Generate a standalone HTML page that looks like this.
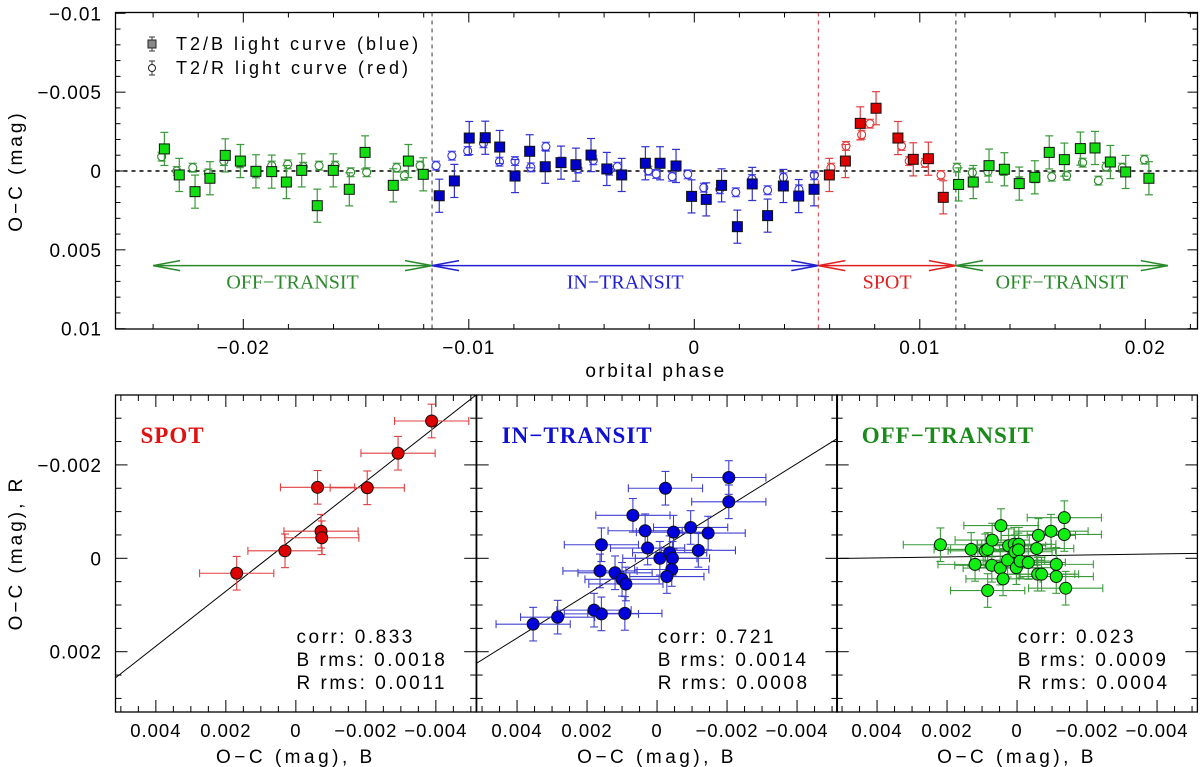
<!DOCTYPE html>
<html><head><meta charset="utf-8"><style>
html,body{margin:0;padding:0;background:#fff;}
svg{display:block;font-family:"Liberation Sans",sans-serif;}
</style></head><body>
<svg id="chart" width="1200" height="767" viewBox="0 0 1200 767" xmlns="http://www.w3.org/2000/svg"></svg>
<script>
// ---------- TOP PANEL DATA ----------
const offLeftSqPhase=[-0.02350,-0.02284,-0.02214,-0.02148,-0.02080,-0.02013,-0.01944,-0.01874,-0.01809,-0.01741,-0.01672,-0.01601,-0.01530,-0.01460,-0.01335,-0.01268,-0.01202];
const offLeftSqMag=[-0.00140,0.00025,0.00131,0.00046,-0.00099,-0.00063,0.00002,0.00004,0.00070,-0.00004,0.00220,-0.00004,0.00116,-0.00118,0.00091,-0.00063,0.00021];
const offLeftCiPhase=[-0.02362,-0.02295,-0.02224,-0.02155,-0.02086,-0.02015,-0.01944,-0.01874,-0.01803,-0.01734,-0.01664,-0.01593,-0.01524,-0.01453,-0.01320,-0.01286,-0.01216];
const offLeftCiMag=[-0.00091,0,-0.00021,0.00015,-0.00063,-0.00049,0.00015,-0.00034,-0.00042,-0.00027,-0.00034,-0.00034,0.00008,0.00008,-0.00021,0.00030,-0.00034];
const inSqPhase=[-0.01131,-0.01064,-0.00998,-0.00927,-0.00863,-0.00795,-0.00730,-0.00661,-0.00591,-0.00525,-0.00458,-0.00388,-0.00322,-0.00217,-0.00152,-0.00081,-0.00012,0.00053,0.00121,0.00191,0.00257,0.00325,0.00395,0.00463,0.00531];
const inSqMag=[0.00157,0.00063,-0.00209,-0.00211,-0.00152,0.00032,-0.00125,-0.00027,-0.00053,-0.00040,-0.00101,-0.00013,0.00025,-0.00049,-0.00049,-0.00032,0.00161,0.00180,0.00091,0.00353,0.00082,0.00283,0.00095,0.00159,0.00116];
const inCiPhase=[-0.01145,-0.01075,-0.01005,-0.00935,-0.00864,-0.00795,-0.00725,-0.00658,-0.00588,-0.00516,-0.00448,-0.00378,-0.00341,-0.00204,-0.00169,-0.00098,-0.00029,0.00042,0.00113,0.00184,0.00256,0.00325,0.00395,0.00464,0.00532];
const inCiMag=[-0.00034,-0.00097,-0.00127,-0.00176,-0.00059,-0.00063,-0.00023,-0.00154,-0.00059,-0.00015,-0.00068,-0.00002,-0.00027,-0.00002,0.00019,0.00036,0.00021,0.00106,0.00116,0.00135,0.00051,0.00122,0.00040,0.00116,0.00027];
const spotSqPhase=[0.00599,0.00670,0.00736,0.00806,0.00903,0.00971,0.01038,0.01104];
const spotSqMag=[0.00025,-0.00063,-0.00302,-0.00398,-0.00209,-0.00074,-0.00078,0.00167];
const spotCiPhase=[0.00606,0.00673,0.00742,0.00779,0.00919,0.00953,0.01023,0.01094];
const spotCiMag=[-0.00021,-0.00159,-0.00230,-0.00300,-0.00159,-0.00063,-0.00051,0.00025];
const offRightSqPhase=[0.01172,0.01237,0.01307,0.01375,0.01441,0.01510,0.01574,0.01641,0.01712,0.01777,0.01845,0.01913,0.02016];
const offRightSqMag=[0.00085,0.00070,-0.00034,-0.00011,0.00080,0.00040,-0.00118,-0.00072,-0.00142,-0.00146,-0.00057,0.00006,0.00046];
const offRightCiPhase=[0.01165,0.01233,0.01302,0.01372,0.01441,0.01511,0.01585,0.01651,0.01722,0.01792,0.01826,0.01898,0.01996];
const offRightCiMag=[-0.00021,0.00011,0.00004,0,0.00065,0.00046,0.00036,0.00030,-0.00053,0.00061,-0.00027,-0.00021,-0.00072];
const sqErr=0.00105, ciErr=0.00028;
const boundaries=[-0.01163,0.0055,0.0116];
const regionStart=[-0.0240,-0.01163,0.0055,0.0116];
const regionEnd=[-0.01163,0.0055,0.0116,0.0210];
const regionLabels=["OFF\u2212TRANSIT","IN\u2212TRANSIT","SPOT","OFF\u2212TRANSIT"];
const topXTicks=[-0.02,-0.01,0,0.01,0.02];
const topXTickLabels=["\u22120.02","\u22120.01","0","0.01","0.02"];
const topYTicks=[-0.01,-0.005,0,0.005,0.01];
const topYTickLabels=["\u22120.01","\u22120.005","0","0.005","0.01"];
// ---------- BOTTOM PANELS DATA ----------
const spotB=[-0.00388,-0.00292,-0.00062,-0.00204,-0.00072,-0.00074,0.00031,0.00169];
const spotR=[-0.00294,-0.00225,-0.00152,-0.00151,-0.00058,-0.00044,-0.00016,0.00032];
const inB=[-0.00205,-0.00024,-0.00205,0.00069,-0.00096,0.00034,-0.00047,-0.00146,0.00159,0.00027,-0.00118,-0.00008,-0.00036,-0.00044,0.00163,0.00120,-0.00042,-0.00028,0.00100,0.00089,0.00180,0.00159,0.00092,0.00284,0.00354];
const inR=[-0.00173,-0.00150,-0.00121,-0.00092,-0.00066,-0.00059,-0.00056,-0.00054,-0.00029,-0.00022,-0.00017,0,-0.00012,0,0.00027,0.00031,0.00024,0.00039,0.00045,0.00055,0.00111,0.00119,0.00118,0.00126,0.00141];
const offB=[0.00219,0.00131,0.00091,0.00084,0.00071,0.00046,0.00120,0.00072,0.00048,0.00040,0.00084,0.00027,0.00024,0.00008,-0.00005,0.00006,-0.00004,0.00002,-0.00009,-0.00032,-0.00056,-0.00061,-0.00097,-0.00135,-0.00135,-0.00112,-0.00059,-0.00070,-0.00112,-0.00139];
const offR=[-0.00029,-0.00019,-0.00016,-0.00019,-0.00039,-0.00070,0.00013,0.00015,0.00021,0.00044,0.00069,0.00004,-0.00027,-0.00030,-0.00030,-0.00014,-0.00018,0.00020,0.00006,0.00009,-0.00021,-0.00049,-0.00058,-0.00087,-0.00051,0.00013,0.00034,0.00034,0.00039,0.00064];
const fitSlope=[0.588,0.467,0.0107];
const fitIntercept=[-0.00047,-0.00016,-0.00005];
const statsCorr=["0.833","0.721","0.023"];
const statsBrms=["0.0018","0.0014","0.0009"];
const statsRrms=["0.0011","0.0008","0.0004"];
const botXTicks=[0.004,0.002,0,-0.002,-0.004];
const botXTickLabels=["0.004","0.002","0","\u22120.002","\u22120.004"];
const botYTicks=[-0.002,0,0.002];
const botYTickLabels=["\u22120.002","0","0.002"];
const bErr=0.00106, rErr=0.00036;

const NS="http://www.w3.org/2000/svg";
const svgRoot=document.getElementById('chart');
function mk(tag,attrs,parent){const e=document.createElementNS(NS,tag);for(const k in attrs)e.setAttribute(k,attrs[k]);(parent||svgRoot).appendChild(e);return e;}

const TL=115.5,TR=1197.5,TT=12.5,TB=329;
const px=p=>694.3+p*22550;
const py=m=>171+m*15770;
const topPanel=mk('g',{});


for(let i=-13;i<=11;i++){const v=i*0.002;const x=px(v);if(x<TL||x>TR)continue;const major=Math.abs(i%5)===0;const Ln=major?10:5;
 mk('line',{x1:x,y1:TB,x2:x,y2:TB-Ln,stroke:'#000','stroke-width':1},topPanel);mk('line',{x1:x,y1:TT,x2:x,y2:TT+Ln,stroke:'#000','stroke-width':1},topPanel);}
for(let i=-10;i<=10;i++){const y=py(i*0.001);const major=i%5===0;const Ln=major?10:5;
 mk('line',{x1:TL,y1:y,x2:TL+Ln,y2:y,stroke:'#000','stroke-width':1},topPanel);mk('line',{x1:TR,y1:y,x2:TR-Ln,y2:y,stroke:'#000','stroke-width':1},topPanel);}
topXTicks.forEach((v,i)=>{const tt=mk('text',{x:px(v),y:354,'text-anchor':'middle','font-size':19,'letter-spacing':'1'},topPanel);tt.textContent=topXTickLabels[i];
 });
topYTicks.forEach((v,i)=>{const tt=mk('text',{x:102,y:py(v)+7,'text-anchor':'end','font-size':19,'letter-spacing':'1'},topPanel);tt.textContent=topYTickLabels[i];
 });
let txt=mk('text',{x:656,y:377,'text-anchor':'middle','font-size':19,'letter-spacing':'2.5'},topPanel);txt.textContent='orbital phase';

txt=mk('text',{transform:'translate(22,171) rotate(-90)','text-anchor':'middle','font-size':19,'letter-spacing':'3'},topPanel);txt.textContent='O\u2212C (mag)';

mk('line',{x1:TL,y1:py(0),x2:TR,y2:py(0),stroke:'#000','stroke-width':1.6,'stroke-dasharray':'4,4'},topPanel);
const bcol=['#333','#e03030','#333'];
boundaries.forEach((b,i)=>{const l=mk('line',{x1:px(b),y1:TT,x2:px(b),y2:TB,stroke:bcol[i],'stroke-width':1,'stroke-dasharray':'4,4'},topPanel);
 });
const regCol=['#2a8a2a','#2020d0','#e02020','#2a8a2a'];
regionStart.forEach((s,i)=>{const x1=px(s),x2=px(regionEnd[i]),y=py(0.006);const g=mk('g',{stroke:regCol[i],'stroke-width':1.5,fill:'none'},topPanel);
 
 mk('line',{x1:x1,y1:y,x2:x2,y2:y},g);
 mk('polyline',{points:`${x1+27},${y-5} ${x1},${y} ${x1+27},${y+5}`},g);
 mk('polyline',{points:`${x2-27},${y-5} ${x2},${y} ${x2-27},${y+5}`},g);
 const tx=mk('text',{x:(x1+x2)/2,y:y+23,'text-anchor':'middle','font-size':20,fill:regCol[i],stroke:'none','font-family':'"Liberation Serif",serif'},topPanel);
 tx.textContent=regionLabels[i];});
function series(ph,mg,err,shape,fill,stroke,ecol,name){const g=mk('g',{},topPanel);
 ph.forEach((p,i)=>{const x=px(p),y=py(mg[i]),y1=py(mg[i]-err),y2=py(mg[i]+err);
  mk('line',{x1:x,y1:y1,x2:x,y2:y2,stroke:ecol,'stroke-width':1.2},g);
  mk('line',{x1:x-4,y1:y1,x2:x+4,y2:y1,stroke:ecol,'stroke-width':1.2},g);
  mk('line',{x1:x-4,y1:y2,x2:x+4,y2:y2,stroke:ecol,'stroke-width':1.2},g);
  if(shape==='sq')mk('rect',{x:x-5,y:y-5,width:10,height:10,fill:fill,stroke:'#111','stroke-width':1},g);
  else mk('circle',{cx:x,cy:y,r:4,fill:'#fff',stroke:stroke,'stroke-width':1.1},g);});}
series(offLeftCiPhase,offLeftCiMag,ciErr,'ci','#fff','#2a8a2a','#4a9a4a','off-transit-red-curve-left');
series(offLeftSqPhase,offLeftSqMag,sqErr,'sq','#11dd11','#111','#3a9a3a','off-transit-blue-curve-left');
series(inCiPhase,inCiMag,ciErr,'ci','#fff','#3030e0','#5050e0','in-transit-red-curve');
series(inSqPhase,inSqMag,sqErr,'sq','#0000cc','#111','#3030d0','in-transit-blue-curve');
series(spotCiPhase,spotCiMag,ciErr,'ci','#fff','#e03030','#e85050','spot-red-curve');
series(spotSqPhase,spotSqMag,sqErr,'sq','#dd0000','#111','#e04040','spot-blue-curve');
series(offRightCiPhase,offRightCiMag,ciErr,'ci','#fff','#2a8a2a','#4a9a4a','off-transit-red-curve-right');
series(offRightSqPhase,offRightSqMag,sqErr,'sq','#11dd11','#111','#3a9a3a','off-transit-blue-curve-right');
const lg=mk('g',{},topPanel);
mk('line',{x1:152,y1:37,x2:152,y2:51,stroke:'#333'},lg);mk('line',{x1:149,y1:37,x2:155,y2:37,stroke:'#333'},lg);mk('line',{x1:149,y1:51,x2:155,y2:51,stroke:'#333'},lg);
mk('rect',{x:148,y:40,width:8,height:8,fill:'#888',stroke:'#222'},lg);
mk('line',{x1:152,y1:61,x2:152,y2:75,stroke:'#333'},lg);mk('line',{x1:149,y1:61,x2:155,y2:61,stroke:'#333'},lg);mk('line',{x1:149,y1:75,x2:155,y2:75,stroke:'#333'},lg);
mk('circle',{cx:152,cy:68,r:3.5,fill:'#fff',stroke:'#222'},lg);
txt=mk('text',{x:176,y:50,'font-size':18,'letter-spacing':'3'},lg);txt.textContent='T2/B light curve (blue)';

txt=mk('text',{x:176,y:74,'font-size':18,'letter-spacing':'3'},lg);txt.textContent='T2/R light curve (red)';

mk('rect',{x:TL,y:TT,width:TR-TL,height:TB-TT,fill:'none',stroke:'#000','stroke-width':1.3},topPanel);

// ---------- bottom panels ----------
const BT=395,BB=712;
const panelLeft=[115.5,476.7,836.7],panelW=360.7;
const ry=r=>558.3+r*46700;
const titles=["SPOT","IN\u2212TRANSIT","OFF\u2212TRANSIT"];
const titleCol=['#e01010','#1010d0','#1a8a1a'];
const ptFill=['#dd0000','#0000dd','#11ee11'];
const errCol=['#e04040','#4040d0','#3a9a3a'];
const dataB=[spotB,inB,offB],dataR=[spotR,inR,offR];
const pnames=['spot-scatter-panel','in-transit-scatter-panel','off-transit-scatter-panel'];
for(let k=0;k<3;k++){const PL=panelLeft[k],PR=PL+panelW,cx=PL+panelW/2;const bx=b=>cx-b*35000;
 const g=mk('g',{});
 const cid='clip'+k;const cp=mk('clipPath',{id:cid},g);mk('rect',{x:PL,y:BT,width:panelW,height:BB-BT},cp);
 for(let i=-10;i<=10;i++){const x=bx(i*0.0005);if(x<PL||x>PR)continue;const Lt=(i%4===0)?12:6;
  mk('line',{x1:x,y1:BB,x2:x,y2:BB-Lt,stroke:'#000'},g);mk('line',{x1:x,y1:BT,x2:x,y2:BT+Lt,stroke:'#000'},g);}
 for(let i=-7;i<=7;i++){const y=ry(i*0.0005);if(y<BT||y>BB)continue;const Lt=(i%4===0)?12:6;
  mk('line',{x1:PL,y1:y,x2:PL+Lt,y2:y,stroke:'#000'},g);mk('line',{x1:PR,y1:y,x2:PR-Lt,y2:y,stroke:'#000'},g);}
 botXTicks.forEach((v,i)=>{const tt=mk('text',{x:bx(v),y:737,'text-anchor':'middle','font-size':18.5,'letter-spacing':'1'},g);tt.textContent=botXTickLabels[i];
  });
 let tq=mk('text',{x:cx,y:763,'text-anchor':'middle','font-size':19,'letter-spacing':'3.5'},g);tq.textContent='O\u2212C (mag), B';
 
 const b1=0.00516,b2=-0.00516;
 const fl=mk('line',{x1:bx(b1),y1:ry(fitIntercept[k]+fitSlope[k]*b1),x2:bx(b2),y2:ry(fitIntercept[k]+fitSlope[k]*b2),stroke:'#000','stroke-width':1,'clip-path':`url(#${cid})`},g);
 
 const Bv=dataB[k],Rv=dataR[k];
 Bv.forEach((b,i)=>{const x=bx(b),y=ry(Rv[i]);const e=errCol[k];
  mk('line',{x1:bx(b-bErr),y1:y,x2:bx(b+bErr),y2:y,stroke:e,'stroke-width':1.1},g);
  mk('line',{x1:bx(b-bErr),y1:y-4,x2:bx(b-bErr),y2:y+4,stroke:e,'stroke-width':1.1},g);
  mk('line',{x1:bx(b+bErr),y1:y-4,x2:bx(b+bErr),y2:y+4,stroke:e,'stroke-width':1.1},g);
  mk('line',{x1:x,y1:ry(Rv[i]-rErr),x2:x,y2:ry(Rv[i]+rErr),stroke:e,'stroke-width':1.1},g);
  mk('line',{x1:x-4,y1:ry(Rv[i]-rErr),x2:x+4,y2:ry(Rv[i]-rErr),stroke:e,'stroke-width':1.1},g);
  mk('line',{x1:x-4,y1:ry(Rv[i]+rErr),x2:x+4,y2:ry(Rv[i]+rErr),stroke:e,'stroke-width':1.1},g);});
 Bv.forEach((b,i)=>{const c=mk('circle',{cx:bx(b),cy:ry(Rv[i]),r:6,fill:ptFill[k],stroke:'#111','stroke-width':1},g);
  });
 tq=mk('text',{x:PL+25,y:443,'font-size':23,'font-weight':'bold',fill:titleCol[k],'font-family':'"Liberation Serif",serif','letter-spacing':'1'},g);tq.textContent=titles[k];
 
 const sx=PL+181;
 [['corr: ',statsCorr[k]],['B rms: ',statsBrms[k]],['R rms: ',statsRrms[k]]].forEach((s,j)=>{const st=mk('text',{x:sx,y:643+j*23,'font-size':19,'letter-spacing':'2.5'},g);
  st.textContent=s[0]+s[1];});
 mk('rect',{x:PL,y:BT,width:panelW,height:BB-BT,fill:'none',stroke:'#000','stroke-width':1.3},g);
}
botYTicks.forEach((v,i)=>{const tt=mk('text',{x:102,y:ry(v)+7,'text-anchor':'end','font-size':19,'letter-spacing':'1'});tt.textContent=botYTickLabels[i];
 });
txt=mk('text',{transform:'translate(22,553) rotate(-90)','text-anchor':'middle','font-size':19,'letter-spacing':'3'});txt.textContent='O\u2212C (mag), R';

</script>
</body></html>
